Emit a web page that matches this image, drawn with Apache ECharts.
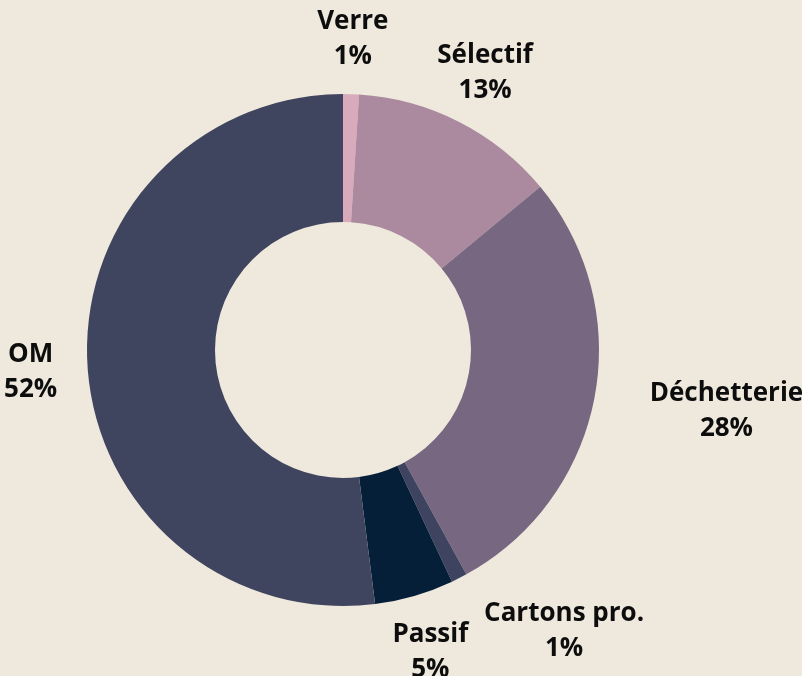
<!DOCTYPE html>
<html>
<head>
<meta charset="utf-8">
<script src="https://cdn.jsdelivr.net/npm/echarts@6/dist/echarts.min.js"></script>
<style>
  html, body { margin: 0; padding: 0; background: #efe9dd; }
  #chart { width: 802px; height: 676px; }
</style>
</head>
<body>
<div id="chart"></div>
<script>
// Waste streams, share of total tonnage (%), clockwise from the top
const categories = ['Verre', 'Sélectif', 'Déchetterie', 'Cartons pro.', 'Passif', 'OM'];
const shares = [1, 13, 28, 1, 5, 52];
const colors = ['#d8aabb', '#ab8a9f', '#776781', '#3e4460', '#061f38', '#40455f'];
// horizontal nudges for labels that would otherwise crowd the ring
const labelShift = [0, 0, 76, 79, 0, 0];

const chart = echarts.init(document.getElementById('chart'), null, { renderer: 'canvas' });

const ring = categories.map((name, i) => ({
  name, value: shares[i], itemStyle: { color: colors[i] }
}));

// transparent outer ring carrying the centred labels
const labelRing = categories.map((name, i) => ({
  name, value: shares[i],
  itemStyle: { color: 'rgba(0,0,0,0)' },
  label: { offset: [labelShift[i], 2] }
}));

chart.setOption({
  backgroundColor: '#efe9dd',
  animation: false,
  series: [
    {
      type: 'pie',
      center: [343, 350],
      radius: [128, 256],
      startAngle: 90,
      clockwise: true,
      silent: true,
      label: { show: false },
      labelLine: { show: false },
      itemStyle: { borderWidth: 0 },
      data: ring
    },
    {
      type: 'pie',
      center: [343, 350],
      radius: [256, 364],
      startAngle: 90,
      clockwise: true,
      silent: true,
      labelLine: { show: false },
      label: {
        show: true,
        position: 'inside',
        formatter: p => p.name + '\n' + p.value + '%',
        fontFamily: 'Open Sans',
        fontWeight: 'bold',
        fontSize: 26,
        lineHeight: 35,
        color: '#0d0d0d',
        align: 'center'
      },
      data: labelRing
    }
  ]
});
</script>
</body>
</html>
